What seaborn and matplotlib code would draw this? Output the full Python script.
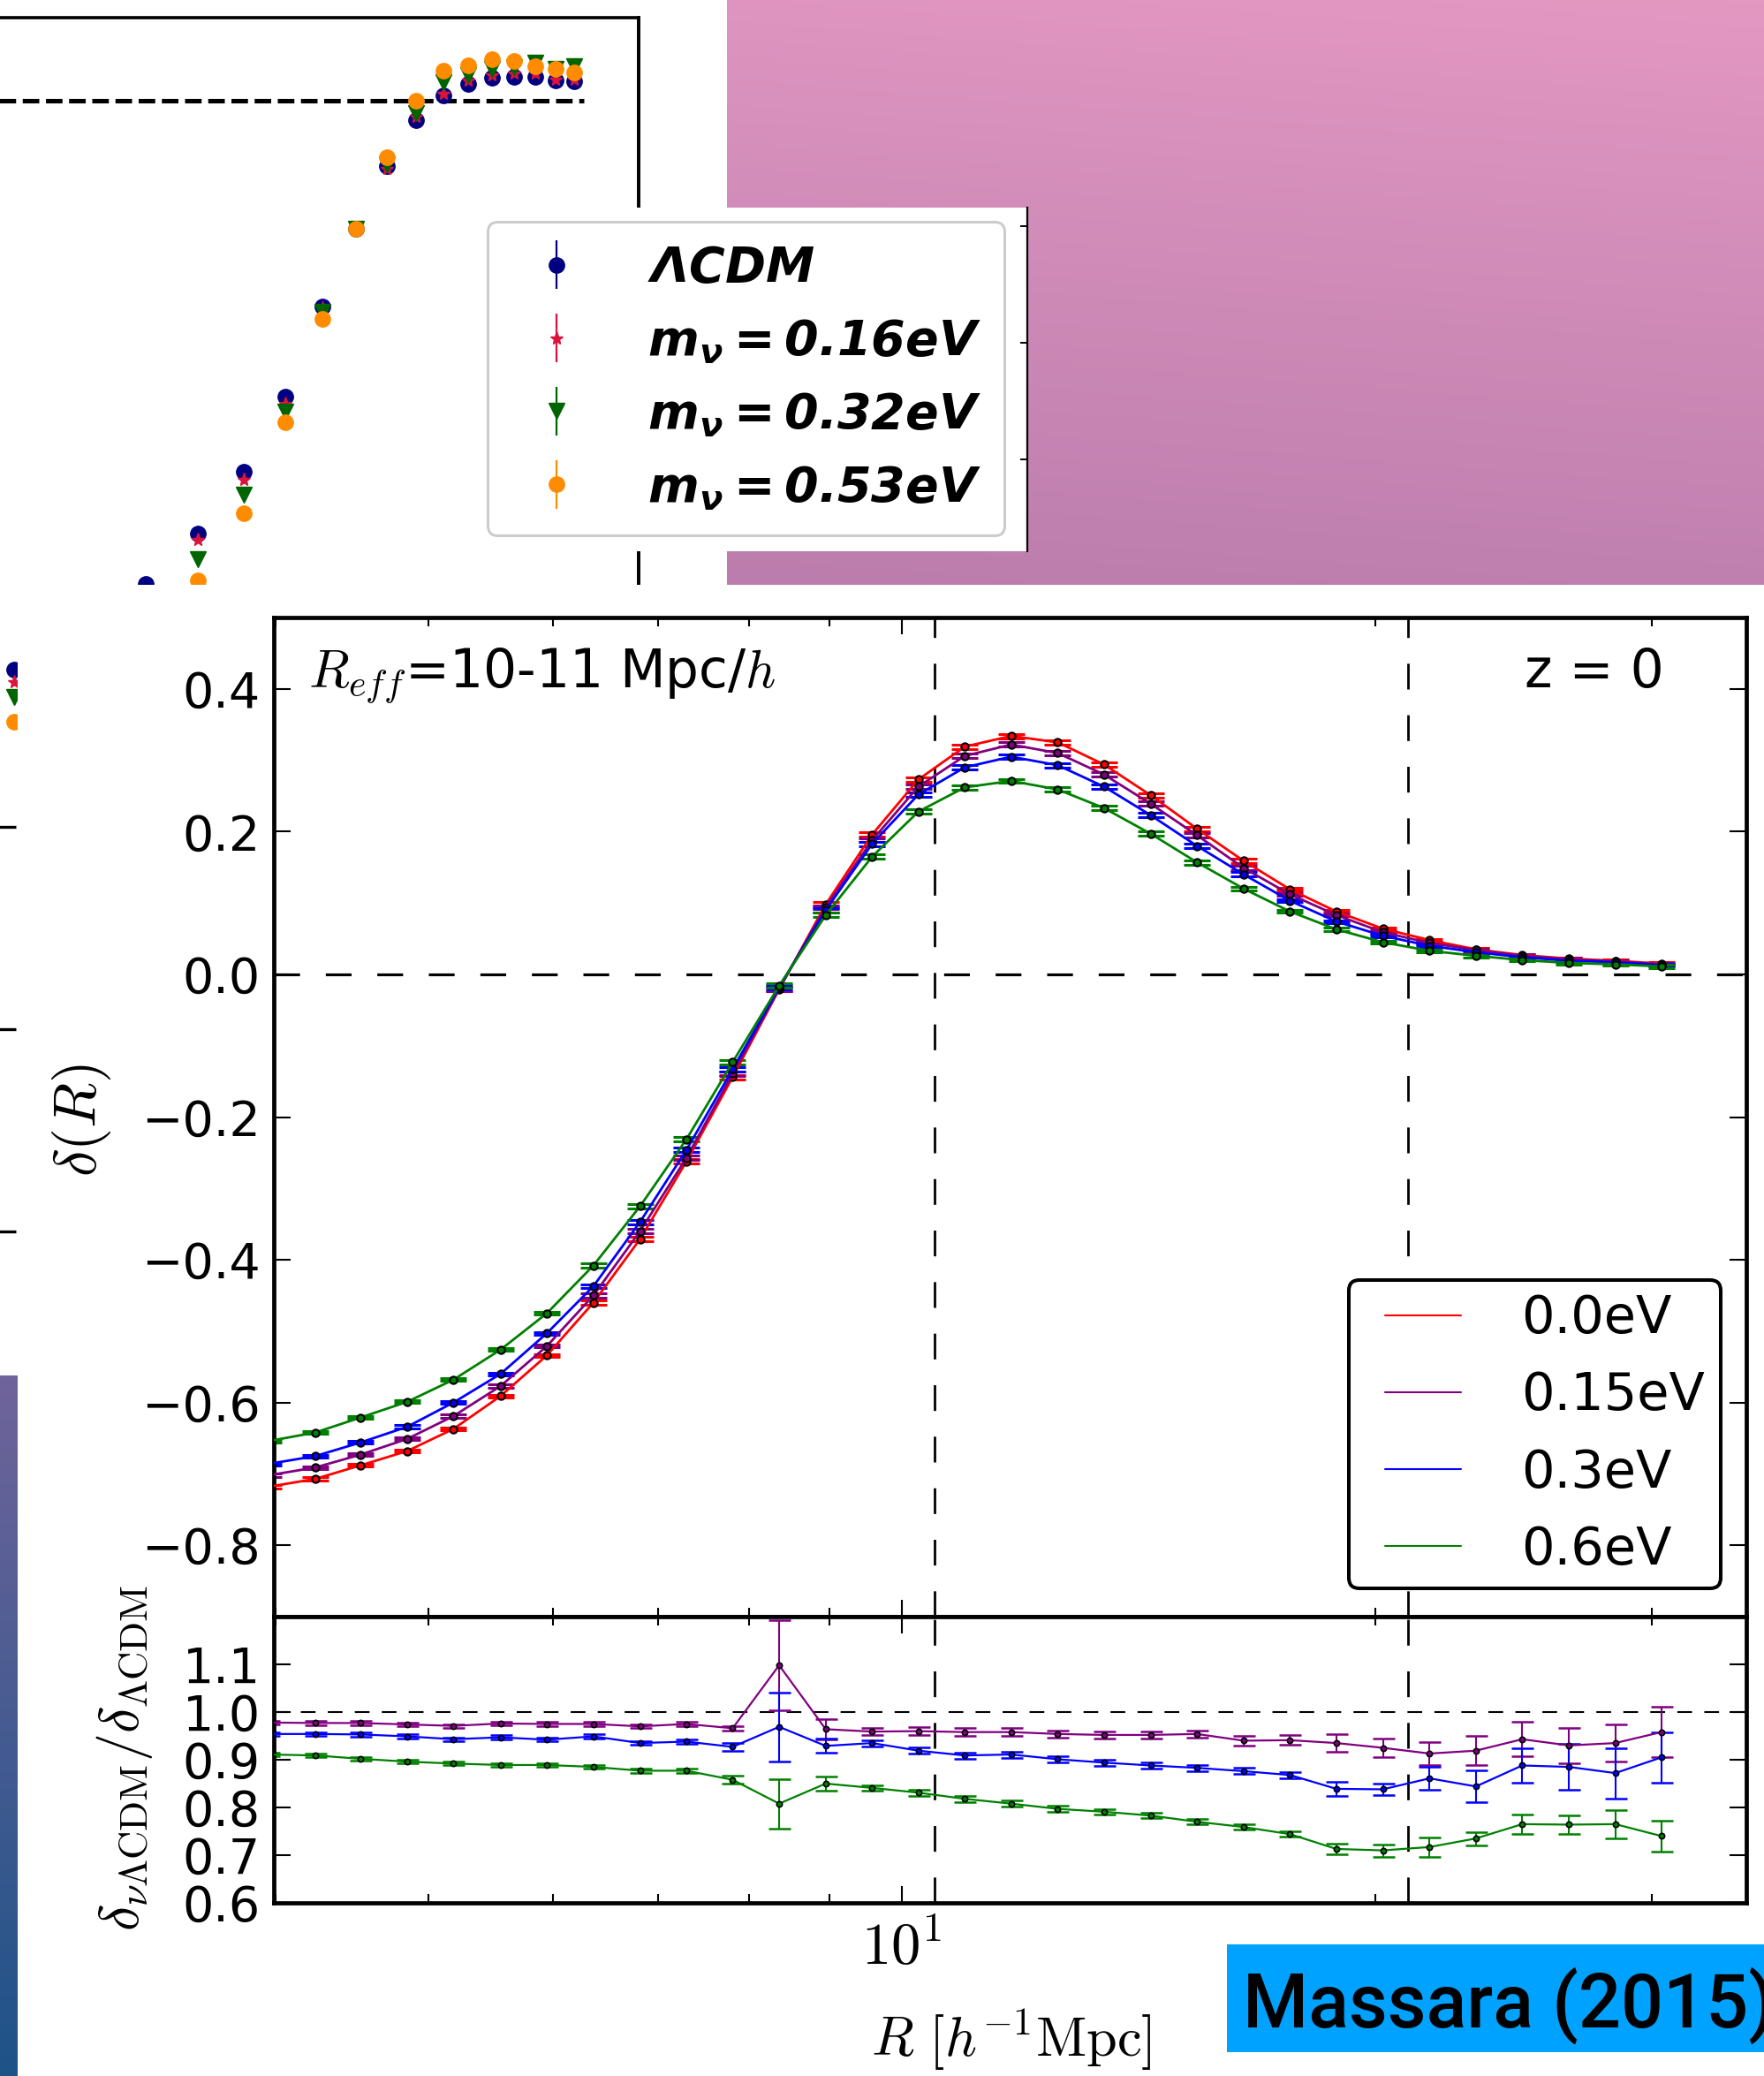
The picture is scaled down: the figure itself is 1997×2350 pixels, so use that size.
import numpy as np
import pandas as pd
import matplotlib
matplotlib.use("Agg")
import matplotlib.pyplot as plt
import seaborn as sns
from matplotlib.lines import Line2D
from matplotlib.legend_handler import HandlerLine2D
from matplotlib.colors import LinearSegmentedColormap
from matplotlib.ticker import FixedLocator, NullLocator, NullFormatter, FixedFormatter

# ------------------------------------------------------------------
# DATA
# ------------------------------------------------------------------
# Massara (2015): void density profile, R_eff = 10-11 Mpc/h, z = 0
R_bins = [3.96, 4.24, 4.53, 4.85, 5.19, 5.56, 5.95, 6.37, 6.82, 7.30, 7.81,
          8.36, 8.95, 9.58, 10.25, 10.97, 11.74, 12.57, 13.45, 14.40, 15.41,
          16.50, 17.66, 18.90, 20.23, 21.66, 23.18, 24.81, 26.56, 28.43, 30.42]

nu_labels = ["0.0eV", "0.15eV", "0.3eV", "0.6eV"]

delta_00 = [-0.718, -0.707, -0.688, -0.668, -0.637, -0.591, -0.534, -0.460, -0.371,
            -0.262, -0.144, -0.021, 0.098, 0.196, 0.273, 0.319, 0.334, 0.325, 0.294,
            0.251, 0.204, 0.159, 0.119, 0.088, 0.064, 0.048, 0.035, 0.027, 0.022,
            0.019, 0.015]
delta_015 = [-0.702, -0.691, -0.673, -0.651, -0.619, -0.577, -0.521, -0.450, -0.360,
             -0.257, -0.139, -0.020, 0.094, 0.188, 0.263, 0.306, 0.322, 0.310, 0.280,
             0.239, 0.195, 0.149, 0.112, 0.083, 0.059, 0.044, 0.034, 0.026, 0.021,
             0.018, 0.014]
delta_03 = [-0.686, -0.675, -0.656, -0.634, -0.600, -0.560, -0.503, -0.437, -0.347,
            -0.246, -0.133, -0.018, 0.090, 0.183, 0.252, 0.290, 0.305, 0.293, 0.263,
            0.223, 0.180, 0.140, 0.103, 0.074, 0.054, 0.040, 0.031, 0.024, 0.019,
            0.017, 0.013]
delta_06 = [-0.654, -0.642, -0.621, -0.599, -0.568, -0.526, -0.475, -0.408, -0.325,
            -0.231, -0.123, -0.016, 0.083, 0.165, 0.228, 0.262, 0.271, 0.259, 0.233,
            0.197, 0.157, 0.120, 0.088, 0.063, 0.045, 0.033, 0.026, 0.020, 0.016,
            0.014, 0.011]
delta_err = [0.002, 0.002, 0.002, 0.002, 0.002, 0.002, 0.002, 0.003, 0.003, 0.003,
             0.003, 0.003, 0.003, 0.003, 0.003, 0.003, 0.003, 0.003, 0.003, 0.003,
             0.003, 0.003, 0.002, 0.002, 0.002, 0.002, 0.002, 0.002, 0.002, 0.002,
             0.002]

ratio_015 = [0.978, 0.977, 0.977, 0.974, 0.971, 0.976, 0.975, 0.975, 0.970, 0.975,
             0.966, 1.098, 0.964, 0.959, 0.960, 0.958, 0.958, 0.954, 0.952, 0.952,
             0.954, 0.940, 0.941, 0.935, 0.925, 0.913, 0.919, 0.943, 0.930, 0.935,
             0.958]
ratio_03 = [0.954, 0.954, 0.953, 0.949, 0.943, 0.947, 0.942, 0.949, 0.935, 0.938,
            0.927, 0.969, 0.929, 0.935, 0.919, 0.909, 0.911, 0.901, 0.894, 0.888,
            0.883, 0.876, 0.868, 0.839, 0.838, 0.861, 0.844, 0.888, 0.885, 0.872,
            0.905]
ratio_06 = [0.911, 0.909, 0.902, 0.896, 0.892, 0.889, 0.889, 0.885, 0.877, 0.877,
            0.858, 0.808, 0.850, 0.841, 0.831, 0.818, 0.808, 0.797, 0.791, 0.783,
            0.770, 0.759, 0.744, 0.713, 0.710, 0.717, 0.735, 0.765, 0.764, 0.765,
            0.740]
ratio_err_015 = [0.004, 0.004, 0.004, 0.004, 0.004, 0.004, 0.004, 0.004, 0.004, 0.004,
                 0.004, 0.095, 0.021, 0.008, 0.008, 0.008, 0.008, 0.008, 0.008, 0.008,
                 0.008, 0.010, 0.010, 0.018, 0.020, 0.024, 0.031, 0.036, 0.037, 0.039,
                 0.053]
ratio_err_03 = [0.004, 0.004, 0.004, 0.004, 0.004, 0.004, 0.004, 0.004, 0.004, 0.004,
                0.008, 0.072, 0.015, 0.0065, 0.0065, 0.0065, 0.0065, 0.0065, 0.0065,
                0.0065, 0.0065, 0.0065, 0.0065, 0.014, 0.012, 0.024, 0.033, 0.037,
                0.048, 0.053, 0.053]
ratio_err_06 = [0.004, 0.004, 0.004, 0.004, 0.004, 0.004, 0.004, 0.004, 0.004, 0.004,
                0.008, 0.052, 0.014, 0.006, 0.006, 0.006, 0.006, 0.006, 0.006, 0.006,
                0.006, 0.006, 0.006, 0.011, 0.013, 0.020, 0.014, 0.020, 0.020, 0.029,
                0.033]

# Partly hidden chart in the upper-left corner (void profiles, four cosmologies)
tl_R = [5, 7, 8, 9, 10, 11, 12, 13, 14, 15, 16, 17, 18, 19, 20, 21]
tl_lcdm = [0.437, 0.522, 0.572, 0.633, 0.707, 0.796, 0.873, 0.935, 0.980, 1.005,
           1.016, 1.022, 1.023, 1.023, 1.020, 1.019]
tl_m016 = [0.425, 0.510, 0.566, 0.625, 0.700, 0.794, 0.873, 0.932, 0.984, 1.007,
           1.020, 1.025, 1.027, 1.027, 1.021, 1.021]
tl_m032 = [0.410, 0.492, 0.546, 0.610, 0.692, 0.791, 0.873, 0.937, 0.987, 1.018,
           1.025, 1.031, 1.033, 1.037, 1.031, 1.034]
tl_m053 = [0.386, 0.470, 0.525, 0.592, 0.682, 0.784, 0.873, 0.944, 1.000, 1.029,
           1.035, 1.041, 1.039, 1.034, 1.031, 1.028]
tl_err = [0.004, 0.004, 0.004, 0.004, 0.004, 0.004, 0.004, 0.004, 0.004, 0.004,
          0.004, 0.004, 0.004, 0.004, 0.004, 0.004]
tl_labels = [r"$\mathbfit{\Lambda CDM}$", r"$\mathbfit{m_{\nu}=0.16eV}$",
             r"$\mathbfit{m_{\nu}=0.32eV}$", r"$\mathbfit{m_{\nu}=0.53eV}$"]
tl_yticks = [0.282, 0.082, -0.118]
mid_yticks = [0, 1, 2]

# ------------------------------------------------------------------
# STYLE
# ------------------------------------------------------------------
sns.set_theme(style="ticks")
plt.rcParams.update({
    "font.family": ["DejaVu Sans"],
    "mathtext.fontset": "cm",
    "lines.scale_dashes": False,
    "axes.unicode_minus": True,
    "axes.edgecolor": "black",
    "axes.labelcolor": "black",
    "text.color": "black",
    "xtick.color": "black",
    "ytick.color": "black",
})

W, H = 1997, 2350
fig = plt.figure(figsize=(W / 100, H / 100), dpi=100)
fig.patch.set_facecolor("white")


def fr(x0, y0, x1, y1):
    return [x0 / W, 1 - y1 / H, (x1 - x0) / W, (y1 - y0) / H]


def blank(a):
    a.set_xticks([])
    a.set_yticks([])
    for s in a.spines.values():
        s.set_visible(False)


# ------------------------------------------------------------------
# Upper-left (partly covered) chart
# ------------------------------------------------------------------
ax_tl = fig.add_axes(fr(-2, 20.4, 722.6, 1600), zorder=1)
ax_tl.set_facecolor("white")
ax_tl.set_xscale("log")
ax_tl.set_xlim(4.796, 24.74)
ax_tl.set_ylim(-0.2982, 1.0814)
ax_tl.hlines(1.0, 4.0, 21.5, colors="black", linewidth=3.7,
             linestyles=[(0, (13.5, 5.4))], zorder=1)
tl_series = [tl_lcdm, tl_m016, tl_m032, tl_m053]
tl_styles = [("navy", "o", 12.5), ("crimson", "*", 11), ("darkgreen", "v", 13), ("darkorange", "o", 12.5)]
tl_handles = []
for vals, (c, m, ms) in zip(tl_series, tl_styles):
    cont = ax_tl.errorbar(tl_R, vals, yerr=tl_err, fmt=m, color=c, ms=ms, mec=c,
                          elinewidth=1.6, capsize=0, ls="none", zorder=3)
    tl_handles.append(cont)
ax_tl.xaxis.set_major_locator(NullLocator())
ax_tl.xaxis.set_minor_locator(NullLocator())
ax_tl.set_yticks(tl_yticks)
ax_tl.tick_params(axis="y", left=True, right=False, direction="in", length=14.5,
                  width=2.4, labelleft=False)
ax_tl.spines["top"].set_linewidth(2.6)
ax_tl.spines["right"].set_linewidth(2.8)
ax_tl.spines["left"].set_linewidth(2.6)
ax_tl.spines["bottom"].set_visible(False)

# ------------------------------------------------------------------
# Pink gradient panel (upper right)
# ------------------------------------------------------------------
ax_pink = fig.add_axes(fr(823, 0, 1997, 662), zorder=2)
pink_cmap = LinearSegmentedColormap.from_list("pink", ["#E398C2", "#BB7DAD"])
gy = np.linspace(0, 1, 200)[:, None]
gx = np.linspace(0, 1, 200)[None, :]
ax_pink.imshow(0.88 * gy + 0.12 * (1 - gx), cmap=pink_cmap, aspect="auto",
               extent=(0, 1, 1, 0), vmin=0, vmax=1)
ax_pink.set_xlim(0, 1)
ax_pink.set_ylim(1, 0)
blank(ax_pink)

# white patch of another panel, with its right axis
ax_mid = fig.add_axes(fr(540, 235, 1163, 624), zorder=3)
ax_mid.set_facecolor("white")
ax_mid.set_xticks([])
ax_mid.set_ylim(-0.788, 2.159)
ax_mid.set_yticks(mid_yticks)
ax_mid.tick_params(axis="y", left=False, right=True, direction="in", length=6,
                   width=1.4, labelleft=False, labelright=False)
for s in ["top", "left", "bottom"]:
    ax_mid.spines[s].set_visible(False)
ax_mid.spines["right"].set_linewidth(1.6)
leg_tl = ax_mid.legend(tl_handles, tl_labels, loc="upper left",
                       bbox_to_anchor=(552 / W, 1 - 251 / H), bbox_transform=fig.transFigure,
                       borderaxespad=0, fontsize=40, frameon=True, fancybox=True,
                       edgecolor="#cccccc", framealpha=1, borderpad=0.47,
                       handlelength=1.87, handletextpad=0.92, labelspacing=0.52)
leg_tl.get_frame().set_linewidth(2.2)
for t in leg_tl.get_texts():
    t.set_math_fontfamily("dejavusans")

# ------------------------------------------------------------------
# White background of the Massara figure + left gradient strip
# ------------------------------------------------------------------
ax_bg = fig.add_axes(fr(20, 662, 1997, 2350), zorder=2)
ax_bg.set_facecolor("white")
blank(ax_bg)

ax_strip = fig.add_axes(fr(0, 1557, 20, 2350), zorder=6)
strip_cmap = LinearSegmentedColormap.from_list("strip", ["#6F649B", "#1E5387"])
ax_strip.imshow(np.linspace(0, 1, 200)[:, None], cmap=strip_cmap, aspect="auto",
                extent=(0, 1, 1, 0))
ax_strip.set_xlim(0, 1)
ax_strip.set_ylim(1, 0)
blank(ax_strip)

# ------------------------------------------------------------------
# Massara (2015) main panel and ratio panel
# ------------------------------------------------------------------
colors = {"0.0eV": "red", "0.15eV": "purple", "0.3eV": "blue", "0.6eV": "green"}

df = pd.DataFrame({
    "R": R_bins * 4,
    "delta": delta_00 + delta_015 + delta_03 + delta_06,
    "err": delta_err * 4,
    "model": sum([[lab] * len(R_bins) for lab in nu_labels], []),
})
dfr = pd.DataFrame({
    "R": R_bins * 3,
    "ratio": ratio_015 + ratio_03 + ratio_06,
    "err": ratio_err_015 + ratio_err_03 + ratio_err_06,
    "model": sum([[lab] * len(R_bins) for lab in nu_labels[1:]], []),
})

ax = fig.add_axes(fr(310, 699, 1977, 1830), zorder=4)
axr = fig.add_axes(fr(310, 1830, 1977, 2154), zorder=4, sharex=ax)
for a in (ax, axr):
    a.set_facecolor("white")
    a.set_xscale("log")
ax.set_xlim(3.99, 34.44)
ax.set_ylim(-0.9, 0.5)
axr.set_ylim(0.6, 1.2)

for lab in nu_labels:
    c = colors[lab]
    sub = df[df["model"] == lab]
    ax.errorbar(sub["R"], sub["delta"], yerr=sub["err"], fmt="none", ecolor=c,
                elinewidth=2, capsize=11, capthick=2.2, zorder=2)
    sns.lineplot(data=sub, x="R", y="delta", ax=ax, color=c, lw=2, marker="o",
                 markersize=6, markeredgecolor="black", markeredgewidth=1.5,
                 markerfacecolor=c, sort=False, estimator=None, errorbar=None,
                 legend=False, zorder=3)

for lab in nu_labels[1:]:
    c = colors[lab]
    sub = dfr[dfr["model"] == lab]
    axr.errorbar(sub["R"], sub["ratio"], yerr=sub["err"], fmt="none", ecolor=c,
                 elinewidth=1.5, capsize=9, capthick=1.8, zorder=2)
    sns.lineplot(data=sub, x="R", y="ratio", ax=axr, color=c, lw=1.6, marker="o",
                 markersize=4.5, markeredgecolor="black", markeredgewidth=1.2,
                 markerfacecolor=c, sort=False, estimator=None, errorbar=None,
                 legend=False, zorder=3)

# reference lines
ax.axhline(0.0, color="black", lw=2.3, dashes=(21, 21), zorder=1)
axr.axhline(1.0, color="black", lw=1.5, dashes=(12, 10), zorder=1)
for a in (ax, axr):
    for xv in (10.5, 21.0):
        a.axvline(xv, color="black", lw=2.0, dashes=(21, 21), zorder=1)

# ticks
ax.xaxis.set_major_locator(FixedLocator([10]))
ax.xaxis.set_minor_locator(FixedLocator([4, 5, 6, 7, 8, 9, 20, 30]))
axr.xaxis.set_major_formatter(FixedFormatter([r"$10^{1}$"]))
axr.xaxis.set_minor_formatter(NullFormatter())
ax.set_yticks([-0.8, -0.6, -0.4, -0.2, 0.0, 0.2, 0.4])
axr.set_yticks([0.6, 0.7, 0.8, 0.9, 1.0, 1.1])
for a in (ax, axr):
    a.tick_params(which="major", direction="in", length=14, width=1.5, top=True,
                  right=True, bottom=True, left=True, labelsize=40, pad=11)
    a.tick_params(which="minor", direction="in", length=7.5, width=1.5, top=True,
                  right=True, bottom=True)
    for s in a.spines.values():
        s.set_linewidth(3.4)
ax.tick_params(axis="x", labelbottom=False)
axr.tick_params(axis="x", which="major", labelsize=48, pad=13)

# labels
ax.set_xlabel("")
ax.set_ylabel(r"$\delta(R)$", fontsize=48)
ax.yaxis.set_label_coords(-0.109, 0.497)
axr.set_ylabel(r"$\delta_{\nu\Lambda{\rm CDM}}/\delta_{\Lambda{\rm CDM}}$", fontsize=46)
axr.yaxis.set_label_coords(-0.081, 0.506)
axr.set_xlabel(r"$R\ [h^{-1}{\rm Mpc}]$", fontsize=45)
axr.xaxis.set_label_coords(0.501, -0.367)

ax.text(0.0234, 0.930, r"$R_{eff}$=10-11 Mpc/$h$", transform=ax.transAxes,
        fontsize=43, ha="left", va="baseline")
ax.text(0.9442, 0.930, "z = 0", transform=ax.transAxes, fontsize=43,
        ha="right", va="baseline")

# legend
nu_handles = [Line2D([], [], color=colors[lab], lw=1.5) for lab in nu_labels]
leg = ax.legend(nu_handles, nu_labels, loc="lower left",
                bbox_to_anchor=(0.730, 0.0283, 0.2527, 0.0), mode="expand",
                borderaxespad=0, fontsize=42.5, frameon=True, fancybox=True,
                edgecolor="black", framealpha=1, borderpad=0.26, handlelength=1.89,
                handletextpad=1.15, labelspacing=0.51,
                handler_map={Line2D: HandlerLine2D(xpad=0.44)})
leg.get_frame().set_linewidth(2.9)

# ------------------------------------------------------------------
# Attribution label
# ------------------------------------------------------------------
ax_lab = fig.add_axes(fr(1389, 2201, 1997, 2323), zorder=6)
ax_lab.set_facecolor("#00A2FF")
blank(ax_lab)
ax_lab.text(0.0304, 0.2295, "Massara (2015)", transform=ax_lab.transAxes, fontsize=61,
            family=["Roboto", "DejaVu Sans"], fontweight="medium", ha="left",
            va="baseline", clip_on=False)

fig.savefig("out.png", dpi=100)
